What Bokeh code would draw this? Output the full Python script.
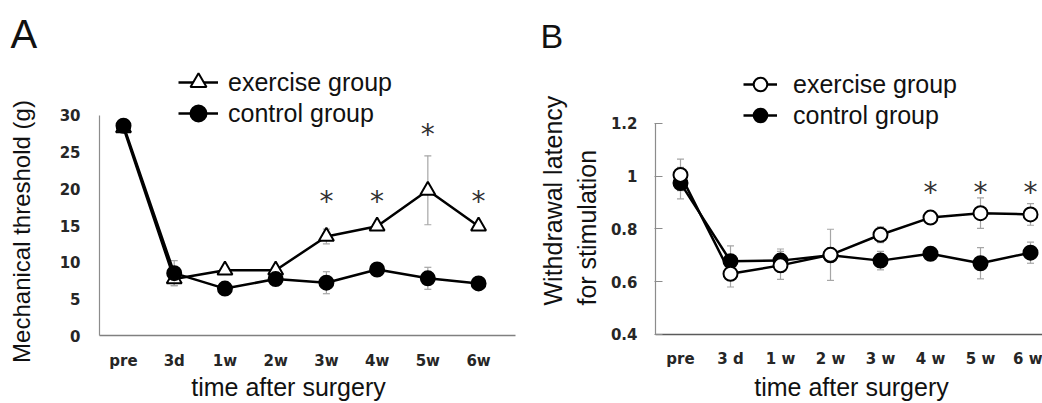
import math
from bokeh.plotting import figure
from bokeh.models import (Range1d, FixedTicker, Legend, LegendItem, Label,
                          ColumnDataSource, Whisker, TeeHead)
from bokeh.layouts import row
from bokeh.embed import file_html
from bokeh.resources import INLINE
from bokeh.core.properties import value

NaN = float("nan")

# ---------------- data ----------------
times_A = ["pre", "3d", "1w", "2w", "3w", "4w", "5w", "6w"]
times_B = ["pre", "3 d", "1 w", "2 w", "3 w", "4 w", "5 w", "6 w"]

A_exercise = [28.3, 7.7, 8.9, 8.9, 13.5, 14.9, 19.8, 14.9]
A_exercise_err = [0.4, 0.9, 0.4, 0.4, 1.0, 0.5, 4.7, 0.4]
A_control = [28.6, 8.5, 6.4, 7.7, 7.2, 9.0, 7.8, 7.1]
A_control_err = [0.4, 1.7, 0.5, 0.5, 1.5, 0.4, 1.5, 0.4]
A_star = ["", "", "", "", "*", "*", "*", "*"]
A_star_y = [NaN, NaN, NaN, NaN, 18.3, 18.3, 27.4, 18.3]
A_yticks = [0, 5, 10, 15, 20, 25, 30]

B_exercise = [1.005, 0.630, 0.662, 0.702, 0.778, 0.843, 0.860, 0.855]
B_exercise_err = [0.06, 0.05, 0.053, 0.097, 0.03, 0.012, 0.058, 0.041]
B_control = [0.974, 0.678, 0.680, 0.700, 0.680, 0.706, 0.670, 0.710]
B_control_err = [0.06, 0.058, 0.044, 0.01, 0.035, 0.01, 0.059, 0.04]
B_star = ["", "", "", "", "", "*", "*", "*"]
B_star_y = [NaN, NaN, NaN, NaN, NaN, 0.94, 0.94, 0.94]
B_yticks = [0.4, 0.6, 0.8, 1.0, 1.2]
B_ytick_labels = ["0.4", "0.6", "0.8", "1", "1.2"]

FONT = "Liberation Sans"
TICKFONT = "DejaVu Sans"
H = 403


def base_fig(width, xr, yr):
    p = figure(width=width, height=H, output_backend="svg", toolbar_location=None,
               title=None, x_range=Range1d(*xr), y_range=Range1d(*yr),
               min_border_left=0, min_border_right=0, min_border_top=0,
               min_border_bottom=0)
    p.outline_line_color = None
    p.xgrid.visible = False
    p.ygrid.visible = False
    p.background_fill_color = "white"
    p.border_fill_color = "white"
    return p


def style_axes(p, labels, xfix, xbounds, yticks, yfix, ybounds, ylabels=None,
               ycolor="#8c8c8c", xcolor="#7a7a7a", tick_in=0, tick_out=0, ystand=19):
    xa = p.xaxis[0]
    xa.fixed_location = xfix
    xa.bounds = xbounds
    xa.ticker = FixedTicker(ticks=list(range(len(labels))))
    xa.major_label_overrides = {i: t for i, t in enumerate(labels)}
    xa.axis_line_color = xcolor
    xa.axis_line_width = 1.5
    xa.major_tick_line_color = None
    xa.minor_tick_line_color = None
    xa.major_tick_in = 0
    xa.major_tick_out = 0
    xa.major_label_standoff = 16
    xa.major_label_text_font = TICKFONT
    xa.major_label_text_font_style = "bold"
    xa.major_label_text_font_size = "15px"
    xa.major_label_text_color = "#262626"

    ya = p.yaxis[0]
    ya.fixed_location = yfix
    ya.ticker = FixedTicker(ticks=yticks)
    ya.bounds = ybounds
    if ylabels is not None:
        ya.major_label_overrides = {t: l for t, l in zip(yticks, ylabels)}
    ya.axis_line_color = ycolor
    ya.axis_line_width = 1.2
    ya.major_tick_line_color = ycolor
    ya.minor_tick_line_color = None
    ya.major_tick_in = tick_in
    ya.major_tick_out = tick_out
    ya.major_label_standoff = ystand
    ya.major_label_text_font = TICKFONT
    ya.major_label_text_font_style = "bold"
    ya.major_label_text_font_size = "15px"
    ya.major_label_text_color = "#262626"


def add_series(p, x, y, err):
    src = ColumnDataSource(dict(x=x, y=y,
                                upper=[a + b for a, b in zip(y, err)],
                                lower=[a - b for a, b in zip(y, err)]))
    w = Whisker(source=src, base="x", upper="upper", lower="lower",
                line_color="#a6a6a6", line_width=1.2, level="underlay",
                upper_head=TeeHead(size=7, line_color="#a6a6a6", line_width=1.2),
                lower_head=TeeHead(size=7, line_color="#a6a6a6", line_width=1.2))
    p.add_layout(w)
    ln = p.line("x", "y", source=src, line_color="black", line_width=2.5)
    return src, ln


def add_markers(p, src, marker, fill, size):
    return p.scatter("x", "y", source=src, marker=marker, size=size,
                     fill_color=fill, line_color="black", line_width=2)


def add_legend(p, item, x, y, gw, gh, standoff):
    leg = Legend(items=[item], location=(x, y), orientation="vertical",
                 background_fill_alpha=0, border_line_color=None,
                 padding=0, margin=0, glyph_width=gw, glyph_height=gh,
                 label_height=gh, spacing=0, label_standoff=standoff,
                 label_text_font=FONT, label_text_font_size="25px",
                 label_text_color="#111111", label_text_baseline="middle")
    p.add_layout(leg)


def add_label(p, text, x, y, size, angle=0.0, align="left", baseline="middle"):
    p.add_layout(Label(text=text, x=x, y=y, x_units="screen", y_units="screen",
                       angle=angle, text_align=align, text_baseline=baseline,
                       text_font=FONT, text_font_size=size, text_color="#111111"))


xs = list(range(len(times_A)))

# ---------------- Panel A ----------------
pA = base_fig(530, (-2.425, 8.024), (-9.27, 45.68))
style_axes(pA, times_A, 0, (-0.473, 7.73), A_yticks, -0.473, (0, 30), xcolor="#808080")
srcAe, lnAe = add_series(pA, xs, A_exercise, A_exercise_err)
srcAc, lnAc = add_series(pA, xs, A_control, A_control_err)
mkAe = add_markers(pA, srcAe, "triangle", "white", 15)
mkAc = add_markers(pA, srcAc, "circle", "black", 14)
pA.text(x=xs, y=A_star_y, text=A_star, text_font=value(TICKFONT),
        text_font_size="28px", text_align="center", text_baseline="middle",
        text_color="#333333")
add_legend(pA, LegendItem(label="exercise group", renderers=[lnAe, mkAe]),
           178, 298, 40, 46, 10)
add_legend(pA, LegendItem(label="control group", renderers=[lnAc, mkAc]),
           178, 267, 40, 46, 10)
add_label(pA, "A", 10, 370, "40px")
add_label(pA, "Mechanical threshold (g)", 21, 172, "24px", angle=math.pi / 2,
          align="center")
add_label(pA, "time after surgery", 288, 17, "25px", align="center")

# ---------------- Panel B ----------------
pB = base_fig(512, (-3.0, 7.24), (0.1384, 1.666))
style_axes(pB, times_B, 0.4, (-0.5, 7.24), B_yticks, -0.5, (0.4, 1.2),
           ylabels=B_ytick_labels, xcolor="#5a5a5a", tick_in=7, tick_out=1, ystand=17)
srcBc, lnBc = add_series(pB, xs, B_control, B_control_err)
srcBe, lnBe = add_series(pB, xs, B_exercise, B_exercise_err)
mkBc = add_markers(pB, srcBc, "circle", "black", 14)
mkBe = add_markers(pB, srcBe, "circle", "white", 14)
pB.text(x=xs, y=B_star_y, text=B_star, text_font=value(TICKFONT),
        text_font_size="28px", text_align="center", text_baseline="middle",
        text_color="#333333")
add_legend(pB, LegendItem(label="exercise group", renderers=[lnBe, mkBe]),
           213, 299, 34, 40, 16)
add_legend(pB, LegendItem(label="control group", renderers=[lnBc, mkBc]),
           213, 268, 34, 40, 16)
add_label(pB, "B", 10, 368, "34px")
add_label(pB, "Withdrawal latency", 22, 98, "25px", angle=math.pi / 2)
add_label(pB, "for stimulation", 56, 98, "25px", angle=math.pi / 2)
add_label(pB, "time after surgery", 321, 17, "25px", align="center")

layout = row(pA, pB)
open("out.html", "w").write(file_html(layout, INLINE))
